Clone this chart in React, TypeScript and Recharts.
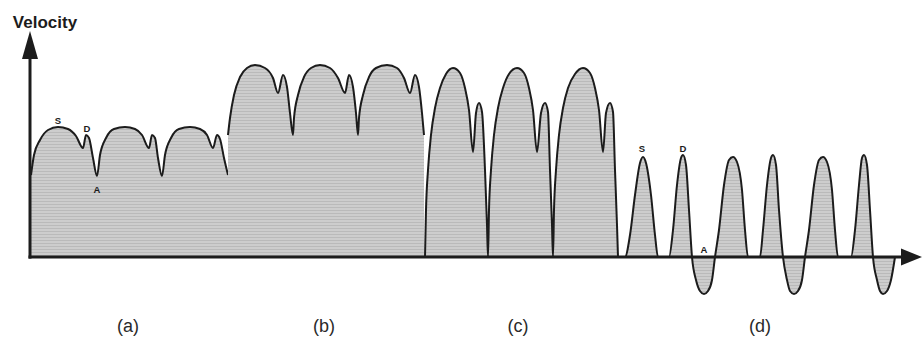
import { Area, AreaChart, ReferenceDot, ReferenceLine, XAxis, YAxis } from "recharts";

// time axis (arbitrary units) and velocity
const aTime = [1, 4, 10, 18, 28, 38, 46, 53, 56, 59, 63, 67, 70, 76, 84, 95, 105, 112, 119, 122, 125, 128, 132, 135, 141, 149, 160, 170, 177, 183, 187, 190, 194, 198];
const aVelocity = [41, 51, 58.5, 63.5, 65, 64, 60.5, 54.5, 61, 59.5, 49.5, 40.5, 51, 59.5, 64, 65, 64, 61, 54.5, 61, 59.5, 49.5, 40.5, 51, 59.5, 64, 65, 64, 61, 54.5, 61, 59, 49.5, 41];

const bTime = [198, 200, 204, 210, 217, 225, 235, 243, 248, 253, 257, 260, 263, 264, 268, 274, 281, 290, 300, 308, 315, 319, 323, 326, 328, 329, 333, 339, 346, 357, 367, 374, 380, 385, 389, 392, 394];
const bVelocity = [61, 69.5, 81, 90, 94.5, 96, 94.5, 89.5, 82, 91, 85, 72, 61, 69.5, 81, 90, 94.5, 96, 94.5, 89.5, 82, 91, 85, 72, 61, 69.5, 81, 90, 94.5, 96, 94.5, 89.5, 82, 91, 85, 72, 61];

const cTime = [395, 396, 398, 401, 405, 410, 416, 423, 430, 435, 439, 443, 446, 449, 452, 455, 457, 458, 459, 461, 464, 468, 473, 479, 487, 494, 499, 503, 507, 511, 515, 518, 520, 522, 523, 524, 526, 529, 533, 538, 545, 553, 560, 565, 569, 573, 576, 580, 583, 585, 587, 588];
const cVelocity = [0, 23.5, 43.5, 61, 74.5, 84.5, 91.5, 94.5, 92, 84.5, 73.5, 52.5, 72, 77, 72.5, 43.5, 16, 0, 23.5, 43.5, 61, 74.5, 84.5, 91.5, 94.5, 92, 84.5, 73.5, 52.5, 72, 77, 72.5, 43.5, 16, 0, 23.5, 43.5, 61, 74.5, 84.5, 91.5, 94.5, 92, 84.5, 73.5, 52.5, 72, 77, 72.5, 43.5, 16, 0];

const dTime = [589, 595, 600, 605, 610, 613, 616, 621, 625, 628, 639, 643, 647, 651, 653, 656, 659, 662, 666, 670, 674, 678, 682, 685, 689, 694, 699, 703, 707, 712, 715, 718, 730, 733, 737, 741, 743, 746, 749, 753, 757, 760, 764, 768, 772, 775, 779, 784, 789, 793, 797, 802, 805, 808, 821, 825, 829, 832, 834, 837, 840, 843, 847, 850, 853, 857, 861, 865];
const dVelocity = [0, 0, 11, 31, 47, 50, 47, 31, 11, 0, 0, 13.5, 36, 49.5, 51, 46, 23.5, 0, -11.5, -17, -18.5, -17, -11.5, 0, 13.5, 36, 48.5, 50, 47.5, 33.5, 13.5, 0, 0, 13.5, 36, 49.5, 51, 46, 23.5, 0, -11.5, -17, -18.5, -17, -11.5, 0, 13.5, 36, 48.5, 50, 47.5, 33.5, 13.5, 0, 0, 13.5, 36, 49.5, 51, 46, 23.5, 0, -11.5, -17, -18.5, -17, -11.5, 0];

const panelLabels = ["(a)", "(b)", "(c)", "(d)"];
const panelLabelTimes = [98, 294, 488, 730];

const markText = ["S", "D", "A", "S", "D", "A"];
const markTime = [28, 57, 67, 612, 653, 674];
const markVelocity = [68.5, 64.5, 34, 54.5, 54.5, 4];

const segments = [
  { key: "a", time: aTime, velocity: aVelocity },
  { key: "b", time: bTime, velocity: bVelocity },
  { key: "c", time: cTime, velocity: cVelocity },
  { key: "d", time: dTime, velocity: dVelocity }
];

const rows: Record<string, number>[] = [];
segments.forEach((seg) => {
  seg.time.forEach((t, i) => {
    rows.push({ t, [seg.key]: seg.velocity[i] });
  });
});

const INK = "#1c1c1c";
const FONT = "'Liberation Sans', Arial, sans-serif";

const labelFor = (t: number) => panelLabels[panelLabelTimes.indexOf(t)] ?? "";

export default function App() {
  return (
    <div style={{ position: "absolute", left: 0, top: 0, background: "#fff" }}>
      <AreaChart width={922} height={338} data={rows} margin={{ top: 0, right: 0, bottom: 0, left: 0 }}>
        <defs>
          <pattern id="hatch" patternUnits="userSpaceOnUse" width="6" height="3">
            <rect width="6" height="3" fill="#cdcdcd" />
            <rect width="6" height="1" fill="#bababa" />
          </pattern>
        </defs>
        <XAxis
          dataKey="t"
          type="number"
          domain={[-30, 892]}
          allowDataOverflow
          ticks={panelLabelTimes}
          tickFormatter={labelFor}
          axisLine={false}
          tickLine={false}
          tickSize={6}
          tickMargin={5}
          height={30}
          tick={{ fill: "#2a2a2a", fontSize: 18, fontFamily: FONT }}
        />
        <YAxis hide type="number" domain={[-25.5, 128.5]} allowDataOverflow />
        {segments.map((seg) => (
          <Area
            key={seg.key}
            dataKey={seg.key}
            type="monotone"
            stroke={INK}
            strokeWidth={2}
            fill="url(#hatch)"
            fillOpacity={1}
            baseValue={0}
            connectNulls={false}
            dot={false}
            activeDot={false}
            isAnimationActive={false}
          />
        ))}
        <ReferenceLine segment={[{ x: -1.5, y: 0 }, { x: 875, y: 0 }]} stroke={INK} strokeWidth={3} ifOverflow="visible" />
        <ReferenceLine segment={[{ x: 0, y: -0.8 }, { x: 0, y: 100 }]} stroke={INK} strokeWidth={3} ifOverflow="visible" />
        <ReferenceDot
          x={0}
          y={113}
          ifOverflow="visible"
          shape={(p: any) => (
            <polygon points={`${p.cx},${p.cy} ${p.cx - 8},${p.cy + 28} ${p.cx + 8},${p.cy + 28}`} fill={INK} />
          )}
        />
        <ReferenceDot
          x={892}
          y={0}
          ifOverflow="visible"
          shape={(p: any) => (
            <polygon points={`${p.cx},${p.cy} ${p.cx - 21},${p.cy - 8.5} ${p.cx - 21},${p.cy + 8.5}`} fill={INK} />
          )}
        />
        <ReferenceDot
          x={15}
          y={117.5}
          ifOverflow="visible"
          shape={(p: any) => (
            <text x={p.cx} y={p.cy} textAnchor="middle" dominantBaseline="central" fontFamily={FONT} fontWeight="bold" fontSize={17} fill={INK}>
              Velocity
            </text>
          )}
        />
        {markText.map((m, i) => (
          <ReferenceDot
            key={`mark-${i}`}
            x={markTime[i]}
            y={markVelocity[i]}
            ifOverflow="visible"
            shape={(p: any) => (
              <text x={p.cx} y={p.cy} textAnchor="middle" dominantBaseline="central" fontFamily={FONT} fontWeight="bold" fontSize={9.5} fill={INK}>
                {m}
              </text>
            )}
          />
        ))}
      </AreaChart>
    </div>
  );
}
